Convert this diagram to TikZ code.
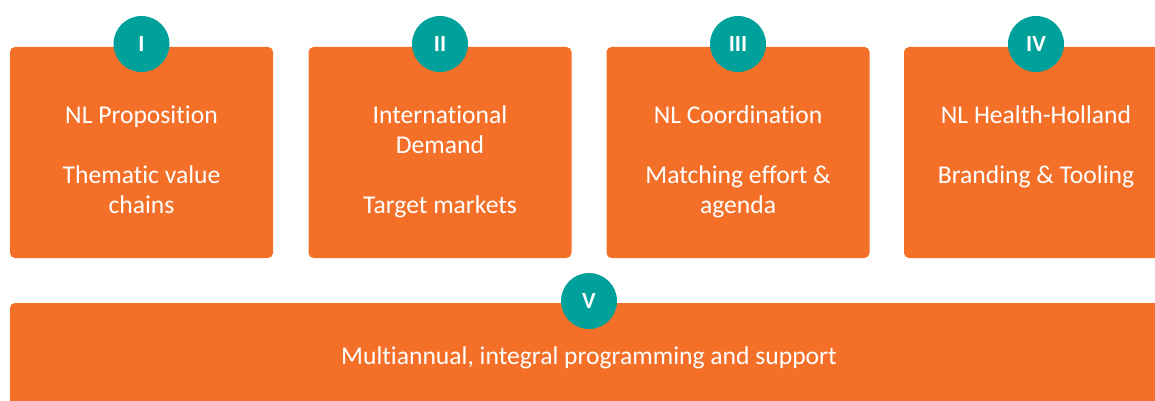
\documentclass[tikz,border=0pt]{standalone}
\usepackage{fontspec}
\setmainfont[Ligatures=NoCommon]{Carlito}
\usepackage{xcolor}
\definecolor{hhorange}{HTML}{F47029}
\definecolor{hhteal}{HTML}{00A09B}
\tikzset{
  block/.style={fill=hhorange, rounded corners=5pt, minimum width=263pt, minimum height=211pt, inner sep=0pt},
  badge/.style={circle, fill=hhteal, minimum size=56pt, inner sep=0pt, text=white, font=\fontsize{23}{23}\selectfont\bfseries},
  txt/.style={text=white, align=center, anchor=north, inner sep=0pt, font=\fontsize{25.6}{30}\selectfont}
}
\begin{document}
\begin{tikzpicture}[x=1pt, y=-1pt]

    \useasboundingbox (0, 0) rectangle (1155, 401);
    \clip (0, 0) rectangle (1155, 401);

    \node[block] (prop) at (141.5, 152.5) {};
    \node[block] (dem) at (440, 152.5) {};
    \node[block] (coord) at (738, 152.5) {};
    \node[block] (hh) at (1035.5, 152.5) {};
    \node[block, minimum width=1158pt, minimum height=130pt] (prog) at (589, 368) {};

    \node[badge] (n1) at (141.5, 44) {I};
    \node[badge] (n2) at (440, 44) {II};
    \node[badge] (n3) at (738, 44) {III};
    \node[badge] (n4) at (1036, 44) {IV};
    \node[badge] (n5) at (589, 301) {V};

    \node[txt] (t1) at (141.5, 106) {NL Proposition\\[30pt]Thematic value\\chains};
    \node[txt] (t2) at (440, 106) {International\\Demand\\[30pt]Target markets};
    \node[txt] (t3) at (738, 106) {NL Coordination\\[30pt]Matching effort \&\\agenda};
    \node[txt] (t4) at (1036, 106) {NL Health-Holland\\[30pt]Branding \& Tooling};
    \node[txt] (t5) at (589, 347) {Multiannual, integral programming and support};

  \end{tikzpicture}
\end{document}
